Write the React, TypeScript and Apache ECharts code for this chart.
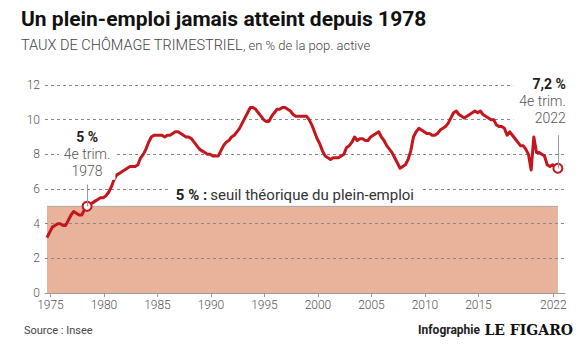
import React, { useEffect, useRef } from "react";
import * as echarts from "echarts";

// Quarterly unemployment rate (%), 1975 Q1 -> 2022 Q4
const startYear = 1975;
const rates1970s = [
  3.2, 3.5, 3.8, 3.9, 4.0, 4.0, 3.9, 3.9, 4.2, 4.5, 4.7, 4.6, 4.5, 4.5, 4.8, 5.0,
  5.1, 5.2, 5.3, 5.4,
];
const rates1980s = [
  5.5, 5.5, 5.6, 5.8, 6.1, 6.5, 6.8, 6.9, 7.0, 7.1, 7.2, 7.3, 7.3, 7.3, 7.4, 7.8,
  8.0, 8.3, 8.7, 9.0, 9.1, 9.1, 9.1, 9.1, 9.0, 9.1, 9.1, 9.2, 9.3, 9.3, 9.2, 9.1,
  9.0, 9.0, 8.9, 8.7, 8.5, 8.3, 8.2, 8.1,
];
const rates1990s = [
  8.0, 8.0, 7.9, 7.9, 7.9, 8.2, 8.5, 8.7, 8.8, 9.0, 9.1, 9.3, 9.5, 9.8, 10.1, 10.4,
  10.7, 10.7, 10.6, 10.4, 10.2, 10.0, 9.9, 9.9, 10.2, 10.4, 10.6, 10.6, 10.7, 10.7, 10.6, 10.5,
  10.3, 10.2, 10.2, 10.2, 10.2, 10.2, 10.0, 9.7,
];
const rates2000s = [
  9.3, 8.9, 8.6, 8.2, 7.9, 7.8, 7.7, 7.8, 7.8, 7.8, 7.9, 8.0, 8.4, 8.5, 8.7, 9.0,
  8.8, 8.9, 8.9, 8.8, 8.8, 9.0, 9.1, 9.2, 9.3, 9.0, 8.8, 8.5, 8.3, 8.1, 7.8, 7.5,
  7.2, 7.3, 7.4, 7.7, 8.2, 9.0, 9.3, 9.5,
];
const rates2010s = [
  9.4, 9.3, 9.2, 9.2, 9.1, 9.1, 9.2, 9.4, 9.5, 9.6, 9.8, 10.1, 10.4, 10.5, 10.3, 10.2,
  10.1, 10.2, 10.3, 10.4, 10.5, 10.4, 10.5, 10.3, 10.2, 10.1, 10.0, 10.0, 9.7, 9.6, 9.6, 9.5,
  9.1, 9.3, 9.1, 8.9, 8.7, 8.5, 8.5, 8.3,
];
const rates2020s = [8.0, 7.1, 9.0, 8.1, 8.1, 8.0, 7.9, 7.4, 7.3, 7.4, 7.3, 7.2];

const tickYears = [1975, 1980, 1985, 1990, 1995, 2000, 2005, 2010, 2015, 2022];
const threshold = 5;
const highlight1978 = { time: 1978.875, value: 5.0, period: "4e trim.", year: "1978", label: "5 %" };
const highlight2022 = { time: 2022.875, value: 7.2, period: "4e trim.", year: "2022", label: "7,2 %" };

const RED = "#c4161c";
const FONT = "Roboto";

export default function App() {
  const ref = useRef<HTMLDivElement>(null);

  useEffect(() => {
    if (!ref.current) return;
    const chart = echarts.init(ref.current, null, { renderer: "svg" });

    const rates = [...rates1970s, ...rates1980s, ...rates1990s, ...rates2000s, ...rates2010s, ...rates2020s];
    const lineData = rates.map((v, i) => [startYear + (i + 0.5) / 4, v]);
    const first = lineData[0][0];
    const last = lineData[lineData.length - 1][0];
    const tickValues = tickYears.map((y) => y + 0.45);

    const richSmall = (align: string) => ({
      b: { fontFamily: FONT, fontSize: 14, fontWeight: "bold", color: "#222", lineHeight: 17, align },
      n: { fontFamily: FONT, fontSize: 14, fontWeight: 300, color: "#555", lineHeight: 17, align },
    });

    const option: any = {
      animation: false,
      textStyle: { fontFamily: FONT },
      title: [
        {
          text: "Un plein-emploi jamais atteint depuis 1978",
          left: 21,
          top: 8,
          padding: 0,
          textStyle: { fontFamily: FONT, fontSize: 21, fontWeight: "bold", color: "#111" },
        },
        {
          text: "{a|TAUX DE CHÔMAGE TRIMESTRIEL}{b|, en % de la pop. active}",
          left: 21,
          top: 38,
          padding: 0,
          textStyle: {
            fontFamily: FONT,
            rich: {
              a: { fontFamily: FONT, fontSize: 14.5, fontWeight: 300, color: "#444" },
              b: { fontFamily: FONT, fontSize: 13, fontWeight: 300, color: "#444" },
            },
          },
        },
        {
          text: "Source : Insee",
          left: 24,
          top: 325,
          padding: 0,
          textStyle: { fontFamily: FONT, fontSize: 11, fontWeight: "normal", color: "#444" },
        },
        {
          text: "{a|Infographie} {b|LE FIGARO}",
          right: 11,
          top: 321,
          padding: 0,
          textStyle: {
            rich: {
              a: { fontFamily: FONT, fontSize: 12, fontWeight: "bold", color: "#222" },
              b: { fontFamily: "DejaVu Serif", fontSize: 14, fontWeight: "bold", color: "#111" },
            },
          },
        },
      ],
      grid: { left: 45, right: 19, top: 85, bottom: 58 },
      xAxis: {
        type: "value",
        min: 1974.94,
        max: 2023.54,
        z: 2,
        axisLine: { show: true, lineStyle: { color: "#999", width: 1 } },
        axisTick: { show: true, customValues: tickValues, length: 4, lineStyle: { color: "#999" } },
        axisLabel: {
          customValues: tickValues,
          formatter: (v: number) => String(Math.floor(v)),
          color: "#555",
          fontFamily: FONT,
          fontSize: 12,
          fontWeight: 300,
          margin: 6,
        },
        splitLine: { show: false },
      },
      yAxis: {
        type: "value",
        min: 0,
        max: 12,
        interval: 2,
        z: 2,
        axisLine: { show: false },
        axisTick: { show: false },
        axisLabel: { color: "#555", fontFamily: FONT, fontSize: 12, fontWeight: 300, margin: 5 },
        splitLine: { show: true, lineStyle: { color: "#888", type: [3, 3], width: 1 } },
      },
      series: [
        {
          type: "line",
          name: "seuil",
          data: [
            [first, threshold],
            [last, threshold],
          ],
          symbol: "none",
          silent: true,
          z: 1,
          lineStyle: { color: "#a9a9a9", width: 1 },
          areaStyle: { color: "#e9b29b", opacity: 1 },
        },
        {
          type: "line",
          name: "annotations",
          data: [],
          symbol: "none",
          silent: true,
          z: 2.5,
          markLine: {
            silent: true,
            symbol: ["none", "none"],
            label: { show: false },
            lineStyle: { color: "#999", width: 1, type: "solid" },
            data: [
              [{ coord: [highlight1978.time, highlight1978.value] }, { coord: [highlight1978.time, 6.25] }],
              [{ coord: [highlight2022.time, highlight2022.value] }, { coord: [highlight2022.time, 9.1] }],
            ],
          },
          markPoint: {
            silent: true,
            symbol: "circle",
            symbolSize: 0,
            itemStyle: { color: "rgba(0,0,0,0)" },
            data: [
              {
                coord: [highlight1978.time, 6.3],
                label: {
                  show: true,
                  position: "top",
                  distance: 4,
                  backgroundColor: "#fff",
                  padding: [0, 5],
                  formatter: `{b|${highlight1978.label}}\n{n|${highlight1978.period}}\n{n|${highlight1978.year}}`,
                  rich: richSmall("center"),
                },
              },
              {
                coord: [highlight2022.time, 9.1],
                label: {
                  show: true,
                  position: "top",
                  distance: 9,
                  align: "right",
                  offset: [8, 0],
                  backgroundColor: "#fff",
                  padding: [0, 0, 0, 6],
                  formatter: `{b|${highlight2022.label}}\n{n|${highlight2022.period}}\n{n|${highlight2022.year}}`,
                  rich: richSmall("right"),
                },
              },
              {
                coord: [1998.3, threshold],
                label: {
                  show: true,
                  position: "top",
                  distance: 3,
                  backgroundColor: "#fff",
                  padding: [1, 6, 0, 6],
                  formatter: "{b|5 % :} {n|seuil théorique du plein-emploi}",
                  rich: {
                    b: { fontFamily: FONT, fontSize: 15, fontWeight: "bold", color: "#222", lineHeight: 17 },
                    n: { fontFamily: FONT, fontSize: 15, fontWeight: "normal", color: "#333", lineHeight: 17 },
                  },
                },
              },
            ],
          },
        },
        {
          type: "line",
          name: "taux",
          data: lineData,
          symbol: "none",
          silent: true,
          z: 3,
          lineStyle: { color: RED, width: 3, join: "round" },
        },
        {
          type: "scatter",
          name: "points",
          data: [
            [highlight1978.time, highlight1978.value],
            [highlight2022.time, highlight2022.value],
          ],
          symbol: "circle",
          symbolSize: 9,
          silent: true,
          z: 4,
          itemStyle: { color: "#fff", borderColor: RED, borderWidth: 2, opacity: 1 },
        },
      ],
    };

    chart.setOption(option);
    return () => chart.dispose();
  }, []);

  return (
    <div
      ref={ref}
      style={{ position: "fixed", left: 0, top: 0, width: 584, height: 351, background: "#fff" }}
    />
  );
}
